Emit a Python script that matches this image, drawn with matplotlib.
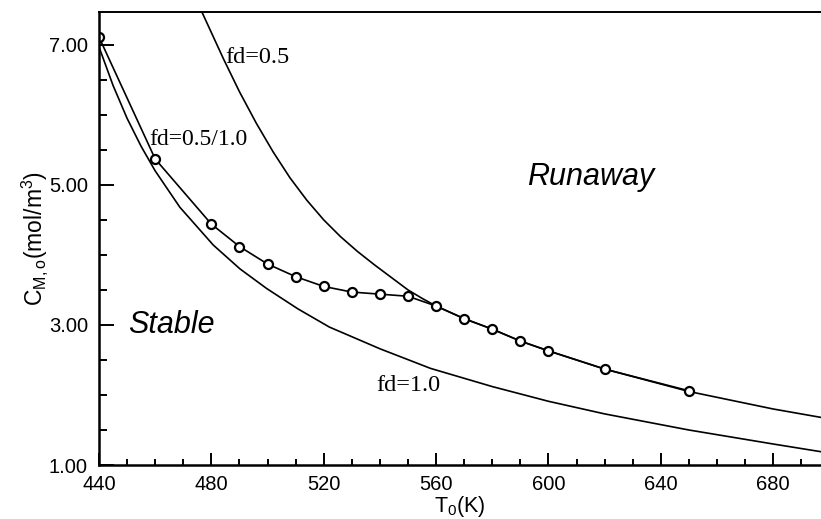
import numpy as np
import matplotlib.pyplot as plt
from matplotlib.ticker import FixedLocator, MultipleLocator, FormatStrFormatter

# critical monomer concentration vs. feed temperature
# fd = 0.5/1.0 (points joined by straight segments)
T_pts = [440, 460, 480, 490, 500, 510, 520, 530, 540, 550, 560, 570, 580, 590, 600, 620, 650]
C_pts = [7.11, 5.37, 4.44, 4.12, 3.87, 3.69, 3.55, 3.47, 3.44, 3.41, 3.27, 3.09, 2.94, 2.77, 2.63, 2.37, 2.06]

# fd = 0.5
T_05 = [476.5, 484.3, 490, 496, 502, 508, 514, 520, 526, 532, 538, 544, 550, 555, 560,
        570, 580, 590, 600, 620, 650, 680, 697]
C_05 = [7.48, 6.80, 6.33, 5.88, 5.47, 5.10, 4.78, 4.50, 4.26, 4.05, 3.86, 3.68, 3.50, 3.38, 3.27,
        3.09, 2.94, 2.77, 2.63, 2.37, 2.05, 1.80, 1.68]

# fd = 1.0
T_10 = [440, 445, 450, 455, 460, 468.8, 480.7, 490.2, 499.7, 510.8, 522, 540, 558, 580, 600, 620, 650, 680, 697]
C_10 = [6.97, 6.42, 5.95, 5.55, 5.20, 4.68, 4.14, 3.80, 3.52, 3.23, 2.97, 2.66, 2.38, 2.12, 1.91, 1.73, 1.50, 1.30, 1.19]

sans = 'Liberation Sans'
serif = 'Liberation Serif'

plt.rcParams['mathtext.fontset'] = 'custom'
plt.rcParams['mathtext.rm'] = sans

fig = plt.figure(figsize=(8.21, 5.19), dpi=100)
ax = fig.add_axes([0.1206, 0.104, 0.8794, 0.873])

lw = 1.2
ax.plot(T_05, C_05, color='black', lw=lw)
ax.plot(T_10, C_10, color='black', lw=lw)
ax.plot(T_pts, C_pts, color='black', lw=lw, marker='o', markersize=6.5,
        markerfacecolor='white', markeredgecolor='black', markeredgewidth=1.6)

ax.set_xlim(440, 697)
ax.set_ylim(1, 7.47)

ax.xaxis.set_major_locator(MultipleLocator(40))
ax.xaxis.set_minor_locator(MultipleLocator(10))
ax.yaxis.set_major_locator(FixedLocator([1, 3, 5, 7]))
ax.yaxis.set_minor_locator(MultipleLocator(0.5))
ax.yaxis.set_major_formatter(FormatStrFormatter('%.2f'))

ax.tick_params(which='both', direction='in', width=1.4, top=False, right=False)
ax.tick_params(axis='x', which='major', length=9, pad=7)
ax.tick_params(axis='x', which='minor', length=4)
ax.tick_params(axis='y', which='major', length=11, pad=8)
ax.tick_params(axis='y', which='minor', length=6)
for lab in ax.get_xticklabels():
    lab.set_fontfamily(sans)
    lab.set_fontsize(14.5)
for lab in ax.get_yticklabels():
    lab.set_fontfamily(sans)
    lab.set_fontsize(14.5)

ax.spines['right'].set_visible(False)
ax.spines['left'].set_linewidth(1.8)
ax.spines['bottom'].set_linewidth(1.8)
ax.spines['top'].set_linewidth(1.4)

ax.set_xlabel(r'$\mathregular{T_0(K)}$', fontsize=15.5, fontfamily=sans, labelpad=0)
ax.set_ylabel(r'$\mathregular{C_{M,o}(mol/m^3)}$', fontsize=16.5, fontfamily=sans, labelpad=-1)

# curve labels and regions
ax.text(484.8, 6.74, 'fd=0.5', fontfamily=serif, fontsize=17.5)
ax.text(458.0, 5.57, 'fd=0.5/1.0', fontfamily=serif, fontsize=17)
ax.text(538.8, 2.05, 'fd=1.0', fontfamily=serif, fontsize=17.5)
ax.text(592.3, 5.0, 'Runaway', fontfamily=sans, fontstyle='italic', fontsize=22)
ax.text(450.3, 2.89, 'Stable', fontfamily=sans, fontstyle='italic', fontsize=22)

fig.savefig('out.png', dpi=100)
